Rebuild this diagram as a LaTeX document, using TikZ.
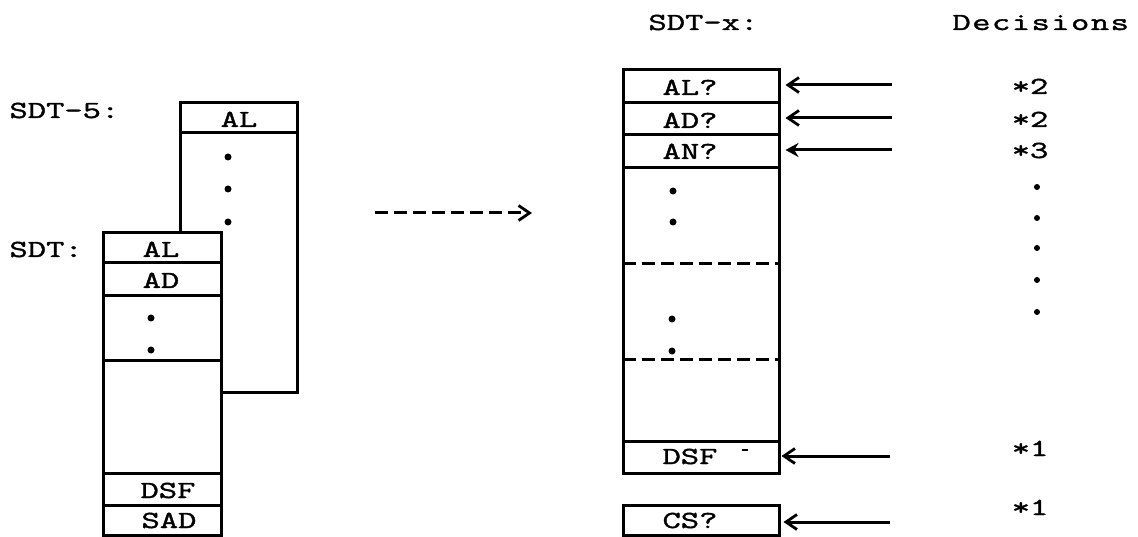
\documentclass[tikz,border=0pt]{standalone}
\usepackage{fontspec}
\setmainfont{Latin Modern Mono}[FakeStretch=1.45,FakeBold=1.6]
\usetikzlibrary{arrows.meta}
\begin{document}
\begin{tikzpicture}[x=1pt,y=-1pt, line width=3pt,
  txt/.style={inner sep=0pt, font=\fontsize{24.5}{28}\selectfont},
  lbl/.style={txt, anchor=base west},
  ctext/.style={txt, anchor=base},
  cell/.style={draw, minimum width=156pt, inner sep=0pt},
  dotmark/.style={circle, fill, inner sep=0pt, minimum size=7pt},
  sdot/.style={circle, fill, inner sep=0pt, minimum size=6pt},
  barb/.style={-{Straight Barb[length=11pt,width=15pt,line width=2.8pt]}},
  hbarb/.style={-{Stealth[length=13pt,width=14pt]}},
  dline/.style={dash pattern=on 13pt off 6pt}]
\useasboundingbox (0,0) rectangle (1138,537);

% ---------- SDT-5 (behind) ----------
\node[lbl] (l5) at (8,118) {SDT-5:};
\draw[fill=white] (180,103) rectangle (297,392);
\draw (180,133) -- (297,133);
\node[ctext] (s5al) at (239,127) {AL};
\node[dotmark] (d51) at (228,157) {};
\node[dotmark] (d52) at (228,189) {};
\node[dotmark] (d53) at (228,222) {};

% ---------- SDT (front) ----------
\node[lbl] (ls) at (8,257) {SDT:};
\draw[fill=white] (103,233) rectangle (221,535);
\draw (103,263) -- (221,263);
\draw (103,296) -- (221,296);
\draw (103,360) -- (221,360);
\draw (103,473) -- (221,473);
\draw (103,505) -- (221,505);
\node[ctext] (sal) at (161,257) {AL};
\node[ctext] (sad) at (161,288) {AD};
\node[dotmark] (sd1) at (151,318) {};
\node[dotmark] (sd2) at (151,350) {};
\node[ctext] (sdsf) at (168,498) {DSF};
\node[ctext] (ssad) at (169,528) {SAD};

% ---------- dashed arrow ----------
\coordinate (da) at (375,213);
\coordinate (db) at (532,213);
\draw[dline, barb] (da) -- (db);

% ---------- SDT-x ----------
\node[lbl] (lx) at (647,30) {SDT-x:};
\draw (623,70) rectangle (779,473);
\node[cell, minimum height=33pt] (alq) at (701,86.5) {};
\node[cell, minimum height=32pt] (adq) at (701,119) {};
\node[cell, minimum height=33pt] (anq) at (701,151.5) {};
\node[ctext] at (690,95) {AL?};
\node[ctext] at (690,128) {AD?};
\node[ctext] at (690,159) {AN?};
\node[dotmark] (xd1) at (673,191) {};
\node[dotmark] (xd2) at (673,222) {};
\draw[dline] (623,264) -- (779,264);
\node[dotmark] (xd3) at (672,319) {};
\node[dotmark] (xd4) at (672,351) {};
\draw[dline] (623,359) -- (779,359);
\node[cell, minimum height=32pt] (dsf) at (701,457) {};
\node[ctext] at (690,464) {DSF};
\draw[line width=1.5pt] (742,450) -- (748,450);
\node[cell, minimum height=30pt] (csq) at (701,520) {};
\node[ctext] at (690,528) {CS?};

% ---------- arrows ----------
\coordinate (a1) at (892,85);
\coordinate (a2) at (892,118);
\coordinate (a3) at (892,150);
\coordinate (a4) at (890,456);
\coordinate (a5) at (890,522);
\draw[barb, shorten >=5pt] (a1) -- (alq.east |- a1);
\draw[barb, shorten >=5pt] (a2) -- (adq.east |- a2);
\draw[hbarb, shorten >=5pt] (a3) -- (anq.east |- a3);
\draw[barb, shorten >=1pt] (a4) -- (dsf.east |- a4);
\draw[barb, shorten >=3pt] (a5) -- (csq.east |- a5);

% ---------- Decisions ----------
\node[lbl] (ld) at (951,30) {\addfontfeatures{LetterSpace=6}Decisions};
\node[ctext] (k1) at (1030,94) {*2};
\node[ctext] (k2) at (1030,127) {*2};
\node[ctext] (k3) at (1030,158) {*3};
\node[sdot] at (1037,187) {};
\node[sdot] at (1037,218) {};
\node[sdot] at (1037,248) {};
\node[sdot] at (1037,280) {};
\node[sdot] at (1037,312) {};
\node[ctext] (k4) at (1030,456) {*1};
\node[ctext] (k5) at (1030,515) {*1};
\end{tikzpicture}
\end{document}
